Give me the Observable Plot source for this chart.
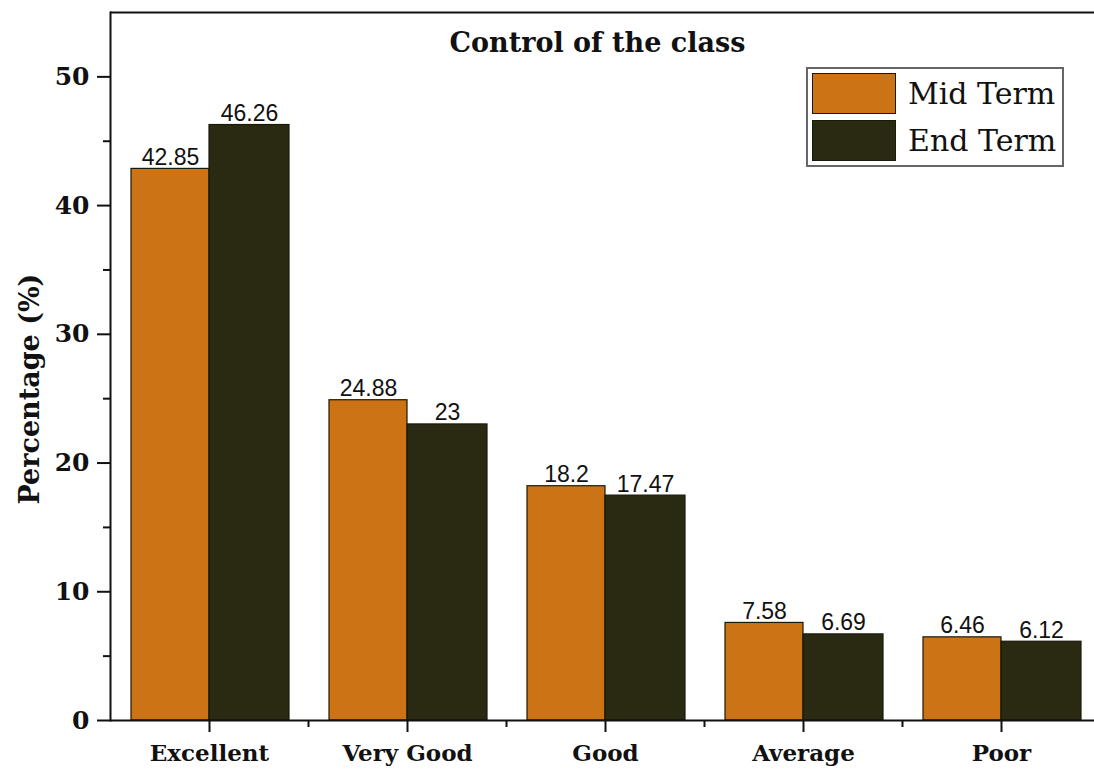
<!DOCTYPE html>
<html>
<head>
<meta charset="utf-8">
<script src="https://cdn.jsdelivr.net/npm/d3@7"></script>
<script src="https://cdn.jsdelivr.net/npm/@observablehq/plot@0.6"></script>
<style>
  html, body { margin: 0; padding: 0; background: #fff; overflow: hidden; }
  #wrap { position: relative; width: 1094px; height: 772px; }
  #legend {
    position: absolute; left: 806px; top: 67px; width: 258px; height: 100px;
    border: 2px solid #666; background: #fff; box-sizing: border-box;
    font-family: "DejaVu Serif", serif; font-size: 30px; color: #111;
  }
  .item { position: absolute; left: 4px; display: flex; align-items: center; }
  .sw { width: 84px; height: 41px; box-sizing: border-box; border: 1.5px solid #1a1a0a; margin-right: 12px; }
</style>
</head>
<body>
<div id="wrap"></div>
<script>
const categories = ["Excellent", "Very Good", "Good", "Average", "Poor"];
const series = ["Mid Term", "End Term"];
const midTerm = [42.85, 24.88, 18.2, 7.58, 6.46];
const endTerm = [46.26, 23, 17.47, 6.69, 6.12];
const yMajorTicks = [0, 10, 20, 30, 40, 50];
const yMinorTicks = [5, 15, 25, 35, 45];
const colors = ["#cc7316", "#2a2a12"];

const mid = categories.map((c, i) => ({category: c, series: series[0], value: midTerm[i]}));
const end = categories.map((c, i) => ({category: c, series: series[1], value: endTerm[i]}));

const serif = "DejaVu Serif";
const sans = "Liberation Sans, Arial, sans-serif";

const chart = Plot.plot({
  width: 1094,
  height: 772,
  marginLeft: 110,
  marginRight: 0,
  marginTop: 12,
  marginBottom: 52,
  style: {background: "white", overflow: "visible", color: "#111"},
  x: {domain: categories, range: [110, 1100], padding: 0},
  y: {domain: [0, 55], label: null},
  color: {domain: series, range: colors},
  marks: [
    Plot.barY(mid, {x: "category", y: "value", fill: "series", stroke: "#1a1a0a", strokeWidth: 1.2, insetLeft: 21, insetRight: 99}),
    Plot.barY(end, {x: "category", y: "value", fill: "series", stroke: "#1a1a0a", strokeWidth: 1.2, insetLeft: 99, insetRight: 19}),
    Plot.text(mid, {x: "category", y: "value", text: d => String(d.value), dx: -39, dy: -4, lineAnchor: "bottom", fontSize: 23, fontFamily: sans, fill: "#111"}),
    Plot.text(end, {x: "category", y: "value", text: d => String(d.value), dx: 40, dy: -4, lineAnchor: "bottom", fontSize: 23, fontFamily: sans, fill: "#111"}),
    Plot.axisY(yMajorTicks, {tickSize: 13, tickPadding: 8, strokeWidth: 2, fontSize: 25, fontWeight: "bold", fontFamily: serif, label: null}),
    Plot.axisY(yMinorTicks, {tickSize: 7, strokeWidth: 2, tickFormat: () => "", label: null}),
    Plot.axisX({tickSize: 12, tickPadding: 12, strokeWidth: 2, fontSize: 23, fontWeight: "bold", fontFamily: serif, label: null}),
    Plot.axisX(categories.slice(1), {tickSize: 7, strokeWidth: 2, dx: -99, tickFormat: () => "", label: null}),
    Plot.ruleY([0], {stroke: "#111", strokeWidth: 2}),
    Plot.ruleY([55], {stroke: "#111", strokeWidth: 2}),
    Plot.frame({anchor: "left", stroke: "#111", strokeWidth: 2}),
    Plot.text(["Control of the class"], {frameAnchor: "top", dx: -5, dy: 31, lineAnchor: "middle", fontSize: 27, fontWeight: "bold", fontFamily: serif, fill: "#111"}),
    Plot.text(["Percentage (%)"], {frameAnchor: "left", dx: -80, dy: 138, rotate: -90, lineAnchor: "middle", fontSize: 27, fontWeight: "bold", fontFamily: serif, fill: "#111"})
  ]
});

const wrap = document.getElementById("wrap");
wrap.appendChild(chart);

const legend = document.createElement("div");
legend.id = "legend";
series.forEach((s, i) => {
  const item = document.createElement("div");
  item.className = "item";
  item.style.top = (4 + i * 47) + "px";
  const sw = document.createElement("div");
  sw.className = "sw";
  sw.style.background = colors[i];
  const label = document.createElement("span");
  label.textContent = s;
  item.appendChild(sw);
  item.appendChild(label);
  legend.appendChild(item);
});
wrap.appendChild(legend);
</script>
</body>
</html>
